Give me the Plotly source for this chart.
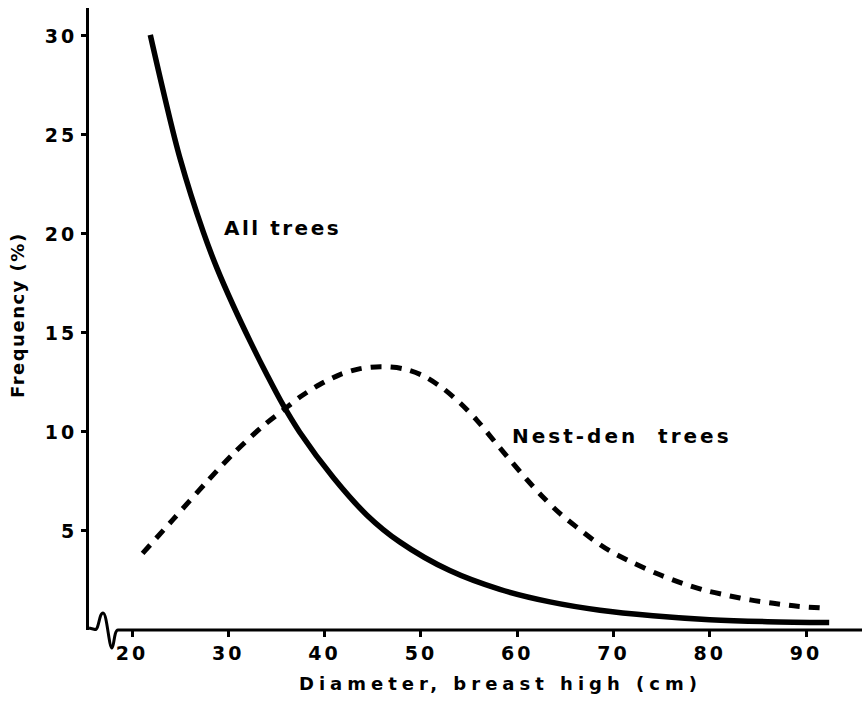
import plotly.graph_objects as go

# ---- data ----
all_x = [21.9, 23.4, 25.0, 27.4, 28.8, 30.5, 32.3, 34.0, 35.7, 37.4, 40.9, 44.4,
         47.8, 53.0, 58.2, 63.4, 68.6, 74.1, 80.0, 86.0, 92.4]
all_y = [30.05, 26.9, 23.8, 20.1, 18.3, 16.4, 14.55, 12.9, 11.35, 10.0, 7.7, 5.8,
         4.45, 3.0, 2.05, 1.42, 1.0, 0.72, 0.52, 0.42, 0.38]

nest_x = [21.1, 24.3, 27.8, 30.5, 33.6, 35.7, 37.4, 39.5, 41.6, 43.7, 45.8, 48.1,
          50.2, 52.3, 54.1, 55.8, 58.2, 61.0, 62.7, 64.4, 67.9, 69.6, 72.0, 74.5,
          77.2, 79.5, 82.1, 84.2, 86.6, 89.1, 92.0]
nest_y = [3.87, 5.6, 7.5, 8.9, 10.3, 11.1, 11.75, 12.4, 12.9, 13.2, 13.3, 13.2,
          12.85, 12.2, 11.45, 10.6, 9.2, 7.6, 6.7, 5.9, 4.55, 4.0, 3.4, 2.85,
          2.35, 2.0, 1.72, 1.52, 1.35, 1.2, 1.1]

x_ticks = [20, 30, 40, 50, 60, 70, 80, 90]
y_ticks = [5, 10, 15, 20, 25, 30]

label_all = "All trees"
label_nest = "Nest-den  trees"
x_title = "Diameter, breast high (cm)"
y_title = "Frequency (%)"

# ---- layout geometry ----
W, H = 862, 702
L, R, T, B = 89, 2, 8, 72
PW, PH = W - L - R, H - T - B
FONT = "DejaVu Sans"


def sp(text, ls):
    return f"<span style='letter-spacing:{ls}px'>{text}</span>"


def P(px, py):
    return f"{(px - L) / PW:.4f},{(H - B - py) / PH:.4f}"


fig = go.Figure()
fig.add_trace(go.Scatter(x=all_x, y=all_y, mode="lines", name=label_all,
                         line=dict(color="black", width=5.5, shape="spline", smoothing=1.0)))
fig.add_trace(go.Scatter(x=nest_x, y=nest_y, mode="lines", name=label_nest,
                         line=dict(color="black", width=5, shape="spline", smoothing=0.8,
                                   dash="11px,9px")))

tickfont = dict(family=FONT, size=19, color="black", weight="bold")

fig.update_xaxes(range=[15.535, 95.6], tickvals=x_ticks,
                 ticktext=[sp(v, 3) for v in x_ticks],
                 ticks="outside", ticklen=6, tickwidth=2.5, tickcolor="black",
                 showline=False, showgrid=False, zeroline=False,
                 tickfont=tickfont)
fig.update_yaxes(range=[0, 31.41], tickvals=y_ticks,
                 ticktext=[sp(v, 3) for v in y_ticks],
                 ticks="outside", ticklen=5, tickwidth=2.5, tickcolor="black",
                 showline=True, linewidth=3, linecolor="black",
                 showgrid=False, zeroline=False, tickfont=tickfont)

# x-axis line starting after the axis-break squiggle, and the squiggle itself
fig.add_shape(type="line", xref="paper", yref="paper",
              x0=(118 - L) / PW, x1=(W - L) / PW + 0.002, y0=0, y1=0,
              line=dict(color="black", width=3))
squiggle = (f"M {P(89, 628)} L {P(95, 629.5)} C {P(99, 630)} {P(99, 613)} {P(103, 613)} "
            f"C {P(107, 613)} {P(109, 648)} {P(112, 648)} "
            f"C {P(114, 648)} {P(114, 630)} {P(118, 630)}")
fig.add_shape(type="path", xref="paper", yref="paper", path=squiggle,
              line=dict(color="black", width=3))

lblfont = dict(family=FONT, size=20, color="black", weight="bold")
fig.add_annotation(x=35.6, y=20.3, text=sp(label_all, 2.5), showarrow=False,
                   xanchor="center", yanchor="middle", font=lblfont)
fig.add_annotation(x=70.9, y=9.8, text=sp(label_nest, 3), showarrow=False,
                   xanchor="center", yanchor="middle", font=lblfont)

titlefont = dict(family=FONT, size=18, color="black", weight="bold")
fig.add_annotation(xref="paper", yref="paper", x=(500 - L) / PW, y=(H - B - 683) / PH,
                   text=sp(x_title, 5), showarrow=False, xanchor="center",
                   yanchor="middle", font=titlefont)
fig.add_annotation(xref="paper", yref="paper", x=(18 - L) / PW, y=(H - B - 315) / PH,
                   text=sp(y_title, 1.5), showarrow=False, textangle=-90,
                   xanchor="center", yanchor="middle", font=titlefont)

fig.update_layout(width=W, height=H, margin=dict(l=L, r=R, t=T, b=B),
                  paper_bgcolor="white", plot_bgcolor="white", showlegend=False)

fig.write_html("out.html", config={"displayModeBar": False},
               post_script="document.body.style.margin='0';"
                           "document.body.style.overflow='hidden';")
